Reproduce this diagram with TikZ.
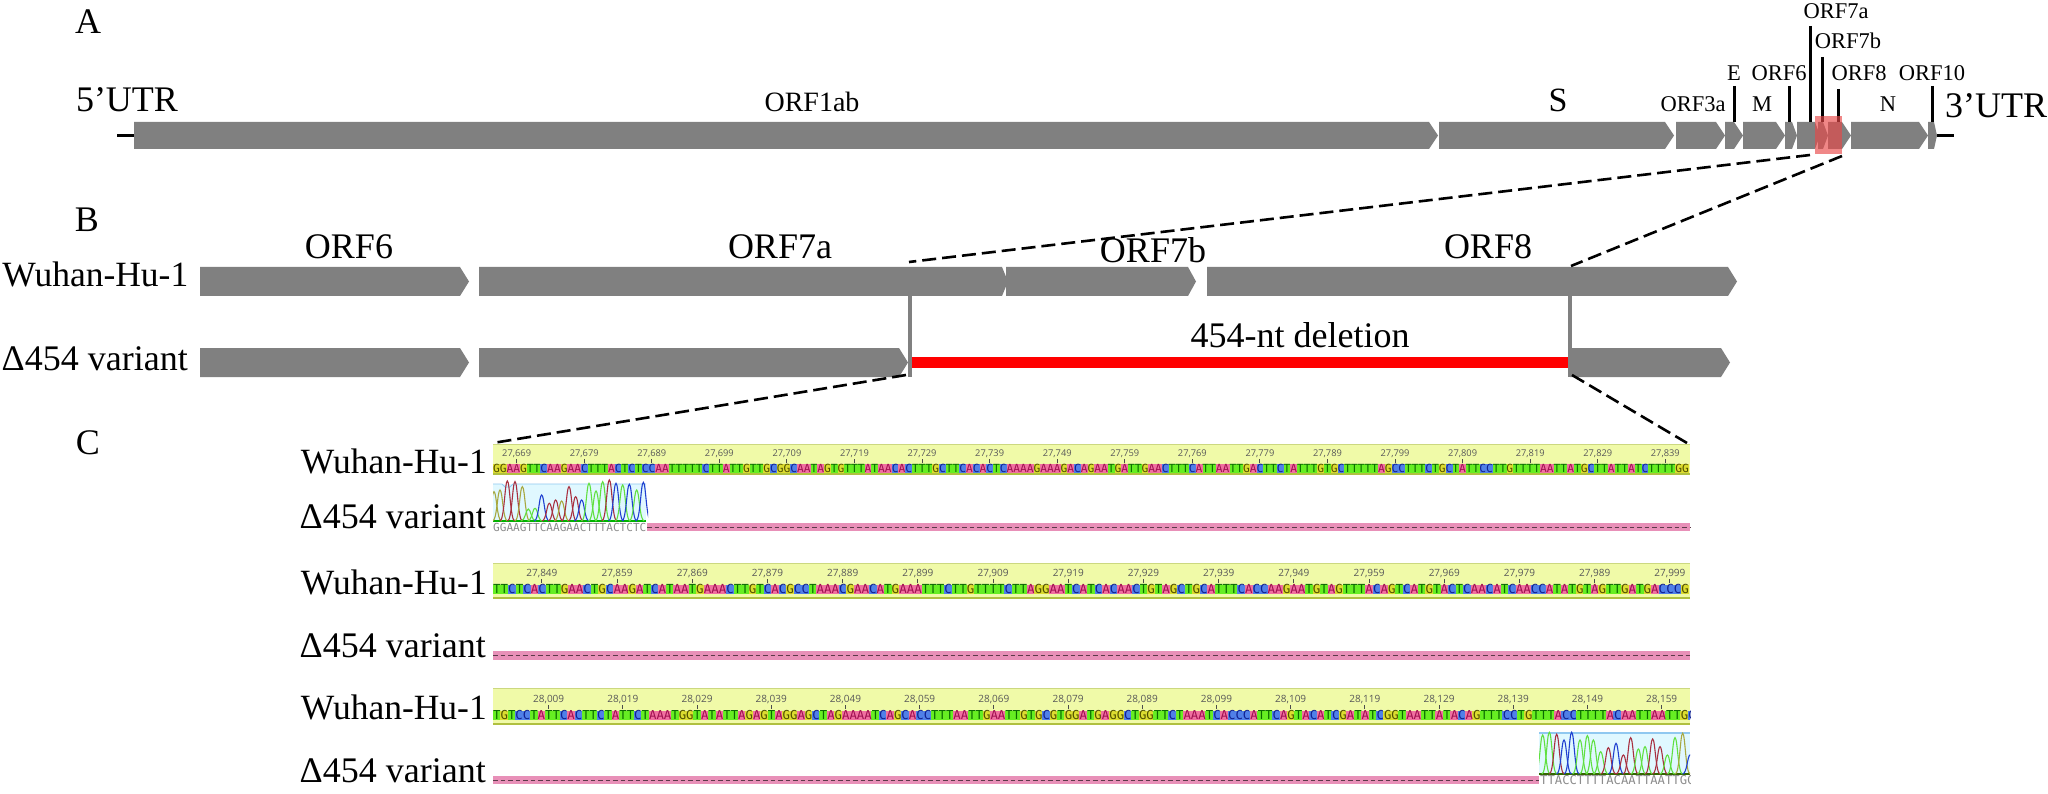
\documentclass[tikz,border=0pt]{standalone}
\usepackage{fontspec}
\setmainfont{Liberation Serif}
\newfontfamily\monof{DejaVu Sans Mono}
\newfontfamily\numf{Open Sans}
\definecolor{baseA}{HTML}{F070A0}
\definecolor{baseC}{HTML}{5080E8}
\definecolor{baseG}{HTML}{DCDC30}
\definecolor{baseT}{HTML}{66EE22}
\definecolor{txtA}{HTML}{A01050}
\definecolor{txtC}{HTML}{102090}
\definecolor{txtG}{HTML}{505000}
\definecolor{txtT}{HTML}{0A6A00}
\definecolor{traceA}{HTML}{A83040}
\definecolor{traceC}{HTML}{2040D0}
\definecolor{traceG}{HTML}{A8A840}
\definecolor{traceT}{HTML}{60E040}
\definecolor{bandc}{HTML}{F0FAA8}
\definecolor{bandtop}{HTML}{CCD880}
\definecolor{bandbot}{HTML}{B0C040}
\definecolor{delc}{HTML}{E890B8}
\definecolor{chromc}{HTML}{E0F8FF}
\definecolor{genec}{HTML}{808080}
\definecolor{hlc}{HTML}{E84848}
\definecolor{chromline}{HTML}{90C8F0}
\tikzset{
  big/.style={font=\fontsize{36}{40}\selectfont,inner sep=0pt,anchor=base},
  small/.style={font=\fontsize{22.5}{25}\selectfont,inner sep=0pt,anchor=base},
  rowlab/.style={font=\fontsize{35.5}{40}\selectfont,inner sep=0pt,anchor=base east},
  varlab/.style={font=\fontsize{36}{40}\selectfont,inner sep=0pt,anchor=base east},
  genepath/.style={fill=genec,draw=none},
  tickbar/.style={black,line width=3pt},
  zoomline/.style={black,line width=2.6pt,dash pattern=on 14pt off 6pt},
  greybar/.style={genec,line width=3.5pt},
  tracepen/.style={line width=1.1pt},
  numlab/.style={inner sep=0pt,text=black!65,anchor=center},
}
% x1 x2 head y1 y2
\newcommand\genearrow[5]{\fill[genepath] (#1,#4) -- ({#2-#3},#4) -- (#2,{(#4+#5)/2}) -- ({#2-#3},#5) -- (#1,#5) -- cycle;}
\def\cellloop#1{\ifx#1\relax\else
  \fill[fill=base#1] (\cx,\celltop) rectangle ({\cx+\cw+0.3},\cellbot);
  \pgfmathsetmacro\cx{\cx+\cw}%
  \expandafter\cellloop\fi}
\def\colorseq#1{\ifx#1\relax\else\textcolor{txt#1}{#1}\expandafter\colorseq\fi}
\def\seqA{GGAAGTTCAAGAACTTTACTCTCCAATTTTTCTTATTGTTGCGGCAATAGTGTTTATAACACTTTGCTTCACACTCAAAAGAAAGACAGAATGATTGAACTTTCATTAATTGACTTCTATTTGTGCTTTTTAGCCTTTCTGCTATTCCTTGTTTTAATTATGCTTATTATCTTTTGG}
\def\seqB{TTCTCACTTGAACTGCAAGATCATAATGAAACTTGTCACGCCTAAACGAACATGAAATTTCTTGTTTTCTTAGGAATCATCACAACTGTAGCTGCATTTCACCAAGAATGTAGTTTACAGTCATGTACTCAACATCAACCATATGTAGTTGATGACCCG}
\def\seqC{TGTCCTATTCACTTCTATTCTAAATGGTATATTAGAGTAGGAGCTAGAAAATCAGCACCTTTAATTGAATTGTGCGTGGATGAGGCTGGTTCTAAATCACCCATTCAGTACATCGATATCGGTAATTATACAGTTTCCTGTTTACCTTTTACAATTAATTGC}
% name, seq macro, band top, letters top, letters bottom, band bottom, cell width, font size
\newcommand\seqrow[8]{%
  \fill[bandc] (493,#3) rectangle (1690,#6);
  \draw[bandtop,line width=1pt] (493,#3) -- (1690,#3);
  \fill[bandbot] (493,{#6-2.5}) rectangle (1690,#6);
  \begin{scope}
    \clip (493,#3) rectangle (1690,#6);
    \def\cx{493}\def\cw{#7}\def\celltop{#4}\def\cellbot{#5}%
    \expandafter\cellloop#2\relax
    \node[inner sep=0pt,anchor=base west,font=\monof\fontsize{#8}{#8}\selectfont] (#1) at (493,{#5-0.5}) {\expandafter\colorseq#2\relax};
  \end{scope}}
% name, y centre, x1, x2
\newcommand\delrow[4]{%
  \fill[delc] (#3,{#2-4.2}) rectangle (#4,{#2+4.2});
  \draw[black!60!delc,line width=1pt,dash pattern=on 4.5pt off 3pt] (#3,#2) -- (#4,#2);
  \coordinate (#1) at (#3,#2);}
\begin{document}
\begin{tikzpicture}[x=1pt,y=-1pt]
\useasboundingbox (0,0) rectangle (2048,794);
\fill[white] (0,0) rectangle (2048,794);

% --- A
\node[big] (labA) at (88,34) {A};
\node[big] (utr5) at (127,112) {5’UTR};
\node[big,anchor=base west] (utr3) at (1945,118) {3’UTR};
\coordinate (l5a) at (117,136); \coordinate (l5b) at (134,136);
\coordinate (l3a) at (1937,136); \coordinate (l3b) at (1954,136);
\draw[tickbar] (l5a) -- (l5b);
\draw[tickbar] (l3a) -- (l3b);
\genearrow{134}{1438}{9}{122}{149}
\genearrow{1439}{1674}{9}{122}{149}
\genearrow{1676}{1725}{9}{122}{149}
\genearrow{1725}{1743}{9}{122}{149}
\genearrow{1743}{1785}{9}{122}{149}
\genearrow{1785}{1797}{5}{122}{149}
\genearrow{1797}{1820}{5}{122}{149}
\genearrow{1818}{1828}{5}{122}{149}
\genearrow{1828}{1851}{9}{122}{149}
\genearrow{1851}{1928}{9}{122}{149}
\genearrow{1928}{1937}{3}{122}{149}
\node[big,font=\fontsize{28}{32}\selectfont] (orf1ab) at (812,112) {ORF1ab};
\node[big,font=\fontsize{34}{38}\selectfont] (orfS) at (1558,112) {S};
\node[small] (orf3a) at (1693,112) {ORF3a};
\node[small] (orfM) at (1762,112) {M};
\node[small] (orfN) at (1888,112) {N};
\node[small] (orfE) at (1734,81) {E};
\node[small] (orf6s) at (1779,81) {ORF6};
\node[small] (orf8s) at (1859,81) {ORF8};
\node[small] (orf10) at (1932,81) {ORF10};
\node[small] (orf7as) at (1836,19) {ORF7a};
\node[small] (orf7bs) at (1848,49) {ORF7b};
\foreach \nm/\tx/\ty in {tE/1734/86,t6/1789/86,t7a/1810/26,t7b/1822/57,t8/1838/89,t10/1932/86}{
  \coordinate (\nm a) at (\tx,\ty);
  \coordinate (\nm b) at (\tx,122);
  \draw[tickbar] (\nm a) -- (\nm b);
}
\fill[hlc,opacity=0.65] (1815,116) rectangle (1842,154);
\coordinate (hlL) at (1810,155); \coordinate (hlR) at (1842,156);

% --- B
\node[big] (labB) at (87,232) {B};
\node[rowlab] (bw) at (188.5,287) {Wuhan-Hu-1};
\node[varlab] (bd) at (188,370) {Δ454 variant};
\genearrow{200}{469}{9}{267}{296}
\genearrow{479}{1008}{6}{267}{296}
\genearrow{1006}{1196}{8}{267}{296}
\genearrow{1207}{1737}{9}{267}{296}
\genearrow{200}{469}{9}{348}{377}
\genearrow{479}{908}{9}{348}{377}
\genearrow{1570}{1730}{9}{348}{377}
\fill[red] (911,357) rectangle (1570,368);
\coordinate (vL1) at (910,296); \coordinate (vL2) at (910,377);
\coordinate (vR1) at (1570,296); \coordinate (vR2) at (1570,377);
\draw[greybar] (vL1) -- (vL2);
\draw[greybar] (vR1) -- (vR2);
\node[big] (orf6b) at (349,259) {ORF6};
\node[big] (orf7ab) at (780,259) {ORF7a};
\node[big] (orf7bb) at (1153,263) {ORF7b};
\node[big] (orf8b) at (1488,259) {ORF8};
\node[big] (dellab) at (1300,348) {454-nt deletion};
\coordinate (bTL) at (909,262); \coordinate (bTR) at (1571,266);
\draw[zoomline] (hlL) -- (bTL);
\draw[zoomline] (hlR) -- (bTR);

% --- C
\node[big] (labC) at (88,454) {C};
\coordinate (cTL) at (493,443); \coordinate (cTR) at (1687,443);
\coordinate (bBL) at (906,375); \coordinate (bBR) at (1572,375);
\draw[zoomline] (bBL) -- (cTL);
\draw[zoomline] (bBR) -- (cTR);
\foreach \nn/\yy in {w1/473,w2/594,w3/719}{\node[rowlab] (\nn) at (487,\yy) {Wuhan-Hu-1};}
\foreach \nn/\yy in {d1/528,d2/657,d3/782}{\node[varlab] (\nn) at (486,\yy) {Δ454 variant};}

\seqrow{sa}{\seqA}{444}{464}{473}{475}{6.757}{11.22}
\seqrow{sb}{\seqB}{563}{585}{594}{599}{7.52}{12.49}
\seqrow{sc}{\seqC}{688}{711}{720}{725}{7.42}{12.33}

\foreach \k [count=\c from 0] in {669,679,689,699,709,719,729,739,749,759,769,779,789,799,809,819,829,839}{
  \pgfmathsetmacro\kx{493+3.5*6.757+10*6.757*\c}
  \node[numlab,font=\numf\fontsize{9.3}{10}\selectfont] (na\c) at (\kx,454) {27,\k};
  \coordinate (tka\c) at (\kx,459); \coordinate (tkb\c) at (\kx,462.5);
  \draw[black!70,line width=1pt] (tka\c) -- (tkb\c);
}
\foreach \k [count=\c from 0] in {849,859,869,879,889,899,909,919,929,939,949,959,969,979,989,999}{
  \pgfmathsetmacro\kx{493+6.5*7.52+10*7.52*\c}
  \node[numlab,font=\numf\fontsize{10}{11}\selectfont] (nb\c) at (\kx,574) {27,\k};
  \coordinate (tka\c) at (\kx,579); \coordinate (tkb\c) at (\kx,582.5);
  \draw[black!70,line width=1pt] (tka\c) -- (tkb\c);
}
\foreach \k [count=\c from 0] in {009,019,029,039,049,059,069,079,089,099,109,119,129,139,149,159}{
  \pgfmathsetmacro\kx{493+7.5*7.42+10*7.42*\c}
  \node[numlab,font=\numf\fontsize{10}{11}\selectfont] (nc\c) at (\kx,700) {28,\k};
  \coordinate (tka\c) at (\kx,705); \coordinate (tkb\c) at (\kx,708.5);
  \draw[black!70,line width=1pt] (tka\c) -- (tkb\c);
}

\delrow{da}{527}{647}{1690}
\delrow{db}{655.5}{493}{1690}
\delrow{dc}{780}{493}{1539}

% chromatogram, first
\fill[chromc] (493,484) rectangle (646,521);
\draw[chromline,line width=0.8pt] (493,484) -- (502,484) -- (505,487) -- (510,487) -- (513,484) -- (646,484);
\draw[green!70!black,line width=1.4pt] (493,521) -- (646,521);
\begin{scope}
\clip (493,478) rectangle (648,523);
\foreach \bs/\zz/\tp in {G/12/50,G/30/45,A/52/18,A/75/20,G/97/35,T/115/102,T/135/100,C/155/60,A/178/85,A/197/75,G/215/78,A/237/35,A/257/65,C/275/75,T/297/25,T/318/48,T/338/20,A/358/15,C/378/25,T/398/30,C/418/28,T/440/45,C/460/22}{
  \pgfmathsetmacro\pkx{490+\zz/3}
  \pgfmathsetmacro\pky{475+\tp/3}
  \draw[tracepen,color=trace\bs] ({\pkx-7.5},521) .. controls ({\pkx-3},521) and ({\pkx-2.5},\pky) .. (\pkx,\pky) .. controls ({\pkx+2.5},\pky) and ({\pkx+3},521) .. ({\pkx+7.5},521);
}
\end{scope}
\node[inner sep=0pt,anchor=base west,text=black!45,font=\monof\fontsize{11.06}{12}\selectfont] (cha) at (493,531) {GGAAGTTCAAGAACTTTACTCTC};

% chromatogram, second
\fill[chromc] (1539,733) rectangle (1690,774);
\draw[chromline,line width=1.4pt] (1539,733) -- (1690,733);
\draw[green!50!black!80!red,line width=1.2pt] (1539,774) -- (1690,774);
\begin{scope}
\clip (1539,728) rectangle (1690,776);
\foreach \bs/\zz/\tp in {T/38/30,T/58/22,A/80/28,C/102/45,C/125/22,T/150/45,T/172/32,T/190/45,T/212/80,A/235/68,C/258/55,A/280/90,A/302/38,T/325/72,T/345/65,A/368/42,A/390/65,T/412/90,T/435/38,G/458/25,C/480/90}{
  \pgfmathsetmacro\pkx{1530+\zz/3}
  \pgfmathsetmacro\pky{725+\tp/3}
  \draw[tracepen,color=trace\bs] ({\pkx-7.5},774) .. controls ({\pkx-3},774) and ({\pkx-2.5},\pky) .. (\pkx,\pky) .. controls ({\pkx+2.5},\pky) and ({\pkx+3},774) .. ({\pkx+7.5},774);
}
\end{scope}
\begin{scope}
\clip (1539,774) rectangle (1690,790);
\node[inner sep=0pt,anchor=base west,text=black!45,font=\monof\fontsize{12.2}{13}\selectfont] (chb) at (1540,784) {TTACCTTTTACAATTAATTGC};
\end{scope}
\end{tikzpicture}
\end{document}
